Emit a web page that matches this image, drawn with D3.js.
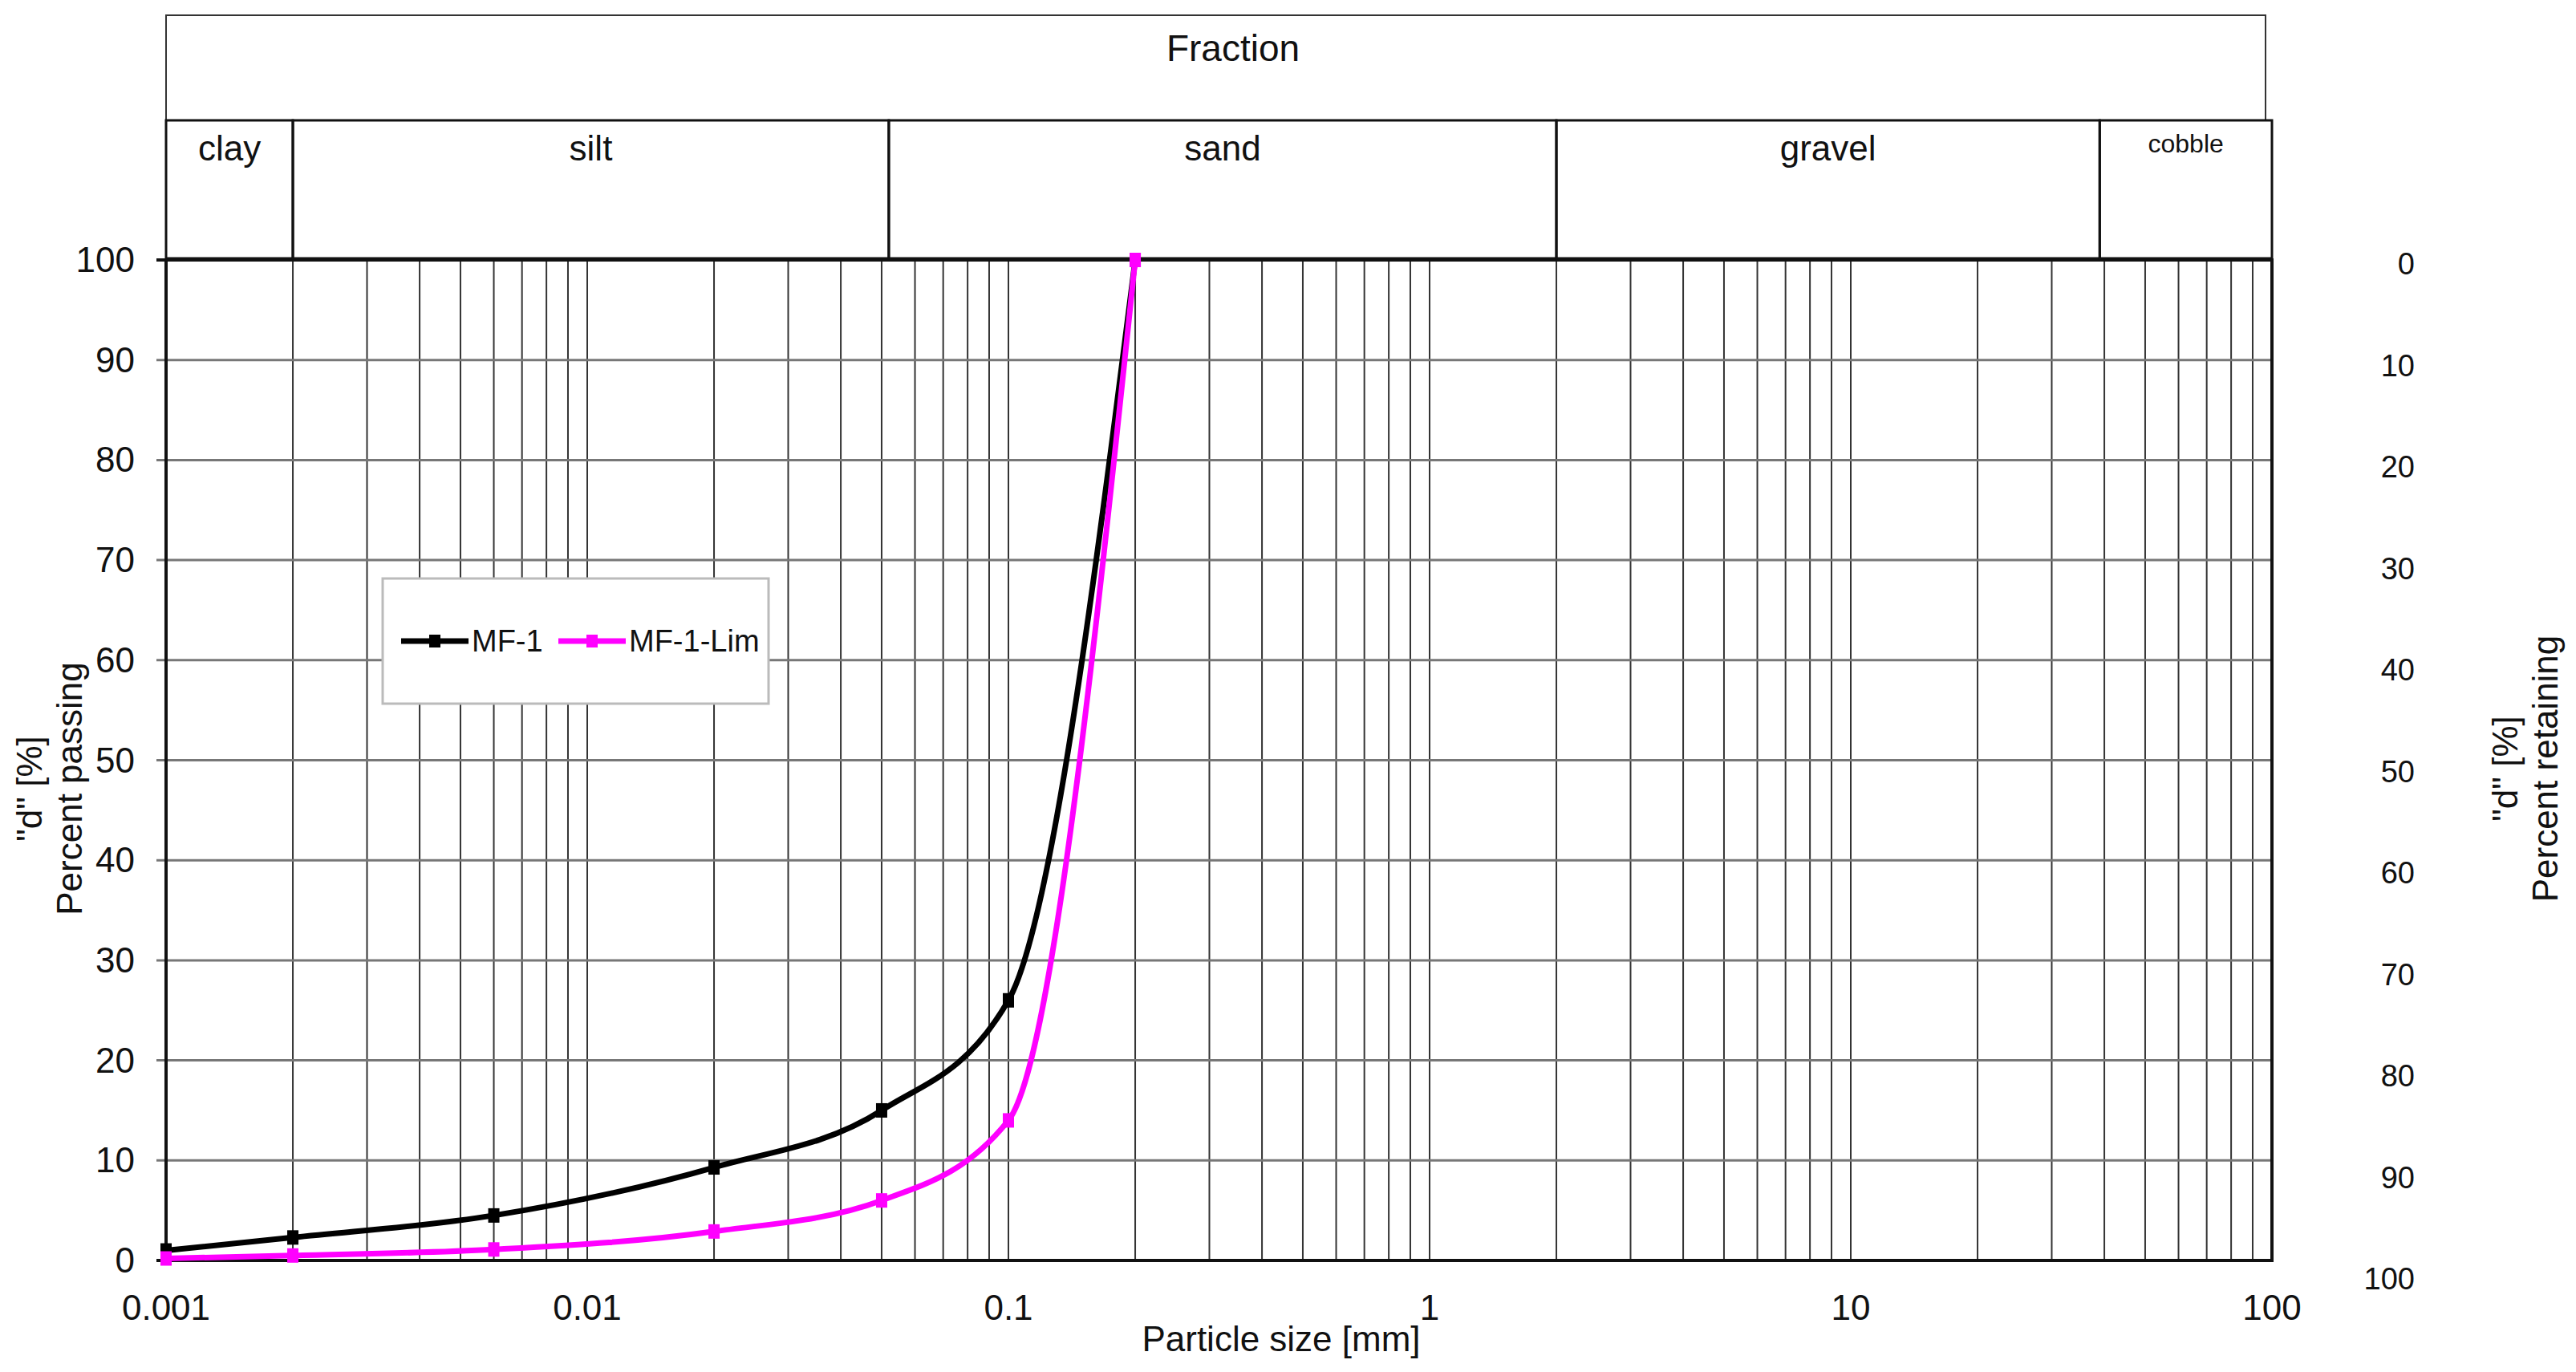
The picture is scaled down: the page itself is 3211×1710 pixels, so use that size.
<!DOCTYPE html>
<html><head><meta charset="utf-8">
<script src="https://cdn.jsdelivr.net/npm/d3@7"></script>
<style>body{margin:0;background:#fff}svg{display:block}text{font-family:"Liberation Sans Narrow","Liberation Sans",Arial,sans-serif;fill:#111}</style>
</head><body>
<script>
var W = 3211, H = 1710;
var sizes = [0.001, 0.002, 0.006, 0.02, 0.05, 0.1, 0.2];
var mf1 = [1, 2.3, 4.5, 9.3, 15, 26, 100];
var mf1Lim = [0.2, 0.5, 1.1, 2.9, 6, 14, 100];
var seriesNames = ["MF-1", "MF-1-Lim"];
var seriesColors = ["#000000", "#ff00ff"];
var bandNames = ["clay", "silt", "sand", "gravel", "cobble"];
var bandEdges = [0.001, 0.002, 0.052, 2, 39, 100];
var xTicks = [0.001, 0.01, 0.1, 1, 10, 100];
var yTicks = d3.range(0, 101, 10);

var pLeft = 207, pRight = 2832, pTop = 324, pBottom = 1571;
var svg = d3.select("body").append("svg").attr("width", W).attr("height", H);
var x = d3.scaleLog().domain([0.001, 100]).range([pLeft, pRight]);
var y = d3.scaleLinear().domain([0, 100]).range([pBottom, pTop]);
var yR = d3.scaleLinear().domain([100, 0]).range([1593, 328]);

// minor log grid
var minor = [];
for (var e = -3; e < 2; e++) for (var m = 2; m <= 9; m++) minor.push(m * Math.pow(10, e));
svg.append("g").selectAll("line").data(minor.concat(xTicks)).join("line")
  .attr("x1", d => x(d)).attr("x2", d => x(d)).attr("y1", pTop).attr("y2", pBottom)
  .attr("stroke", "#333").attr("stroke-width", 2);
svg.append("g").selectAll("line").data(yTicks).join("line")
  .attr("x1", pLeft - 12).attr("x2", pRight).attr("y1", d => y(d)).attr("y2", d => y(d))
  .attr("stroke", d => d == 0 || d == 100 ? "#111" : "#777").attr("stroke-width", d => d == 0 || d == 100 ? 4 : 3);
svg.append("rect").attr("x", pLeft).attr("y", pTop).attr("width", pRight - pLeft).attr("height", pBottom - pTop)
  .attr("fill", "none").attr("stroke", "#111").attr("stroke-width", 4);

// fraction header
svg.append("rect").attr("x", pLeft).attr("y", 19).attr("width", pRight - pLeft - 8).attr("height", 131)
  .attr("fill", "none").attr("stroke", "#333").attr("stroke-width", 2);
svg.append("text").attr("x", 1537).attr("y", 76).attr("text-anchor", "middle").attr("font-size", 46)
  .style("font-family", "Liberation Sans").text("Fraction");
var bands = bandNames.map((n, i) => ({name: n, a: bandEdges[i], b: bandEdges[i + 1]}));
var bg = svg.append("g").selectAll("g").data(bands).join("g");
bg.append("rect").attr("x", d => x(d.a)).attr("y", 150).attr("width", d => x(d.b) - x(d.a)).attr("height", 172)
  .attr("fill", "none").attr("stroke", "#111").attr("stroke-width", 3);
bg.append("text").attr("x", d => (x(d.a) + x(d.b)) / 2).attr("y", d => d.name == "cobble" ? 190 : 200)
  .attr("text-anchor", "middle").attr("font-size", d => d.name == "cobble" ? 32 : 44)
  .style("font-family", d => d.name == "cobble" ? "Liberation Sans" : null).text(d => d.name);

// axes labels
svg.append("g").selectAll("text").data(xTicks).join("text")
  .attr("x", d => x(d)).attr("y", 1645).attr("text-anchor", "middle").attr("font-size", 44)
  .style("font-family", d => d == 100 ? "Liberation Sans" : null)
  .text(d => d3.format("~g")(d));
svg.append("g").selectAll("text").data(yTicks).join("text")
  .attr("x", 168).attr("y", d => y(d) + 15).attr("text-anchor", "end").attr("font-size", 44).text(d => d);
svg.append("g").selectAll("text").data(yTicks).join("text")
  .attr("x", 3010).attr("y", d => yR(d) + 14).attr("text-anchor", "end").attr("font-size", 38)
  .style("font-family", "Liberation Sans").text(d => d);
svg.append("text").attr("x", 1597).attr("y", 1684).attr("text-anchor", "middle").attr("font-size", 44).text("Particle size [mm]");
var yl = svg.append("text").attr("transform", "translate(52,983) rotate(-90)").attr("text-anchor", "middle").attr("font-size", 44);
yl.append("tspan").attr("x", 0).attr("dy", 0).text('"d" [%]');
yl.append("tspan").attr("x", 0).attr("dy", 50).text("Percent passing");
var yr = svg.append("text").attr("transform", "translate(3138,958) rotate(-90)").attr("text-anchor", "middle").attr("font-size", 44);
yr.append("tspan").attr("x", 0).attr("dy", 0).text('"d" [%]');
yr.append("tspan").attr("x", 0).attr("dy", 50).text("Percent retaining");

// curves
var series = [mf1, mf1Lim].map((v, i) => ({name: seriesNames[i], color: seriesColors[i], pts: sizes.map((s, j) => [s, v[j]])}));
var line = d3.line().x(d => x(d[0])).y(d => y(d[1])).curve(d3.curveMonotoneX);
var sg = svg.append("g").selectAll("g").data(series).join("g");
sg.append("path").attr("d", d => line(d.pts)).attr("fill", "none").attr("stroke", d => d.color).attr("stroke-width", 7);
sg.each(function(d) {
  d3.select(this).selectAll("rect").data(d.pts).join("rect")
    .attr("x", p => x(p[0]) - 7).attr("y", p => y(p[1]) - 9).attr("width", 14).attr("height", 18).attr("fill", d.color);
});

// legend
var lg = svg.append("g");
lg.append("rect").attr("x", 477).attr("y", 721).attr("width", 481).attr("height", 156)
  .attr("fill", "#fff").attr("stroke", "#bbb").attr("stroke-width", 3);
var li = lg.selectAll("g").data(series).join("g").attr("transform", (d, i) => "translate(" + (500 + i * 196) + ",799)");
li.append("line").attr("x1", 0).attr("x2", 84).attr("stroke", d => d.color).attr("stroke-width", 7);
li.append("rect").attr("x", 35).attr("y", -8).attr("width", 14).attr("height", 16).attr("fill", d => d.color);
li.append("text").attr("x", 88).attr("y", 13).attr("font-size", 38).text(d => d.name);
</script>
</body></html>
